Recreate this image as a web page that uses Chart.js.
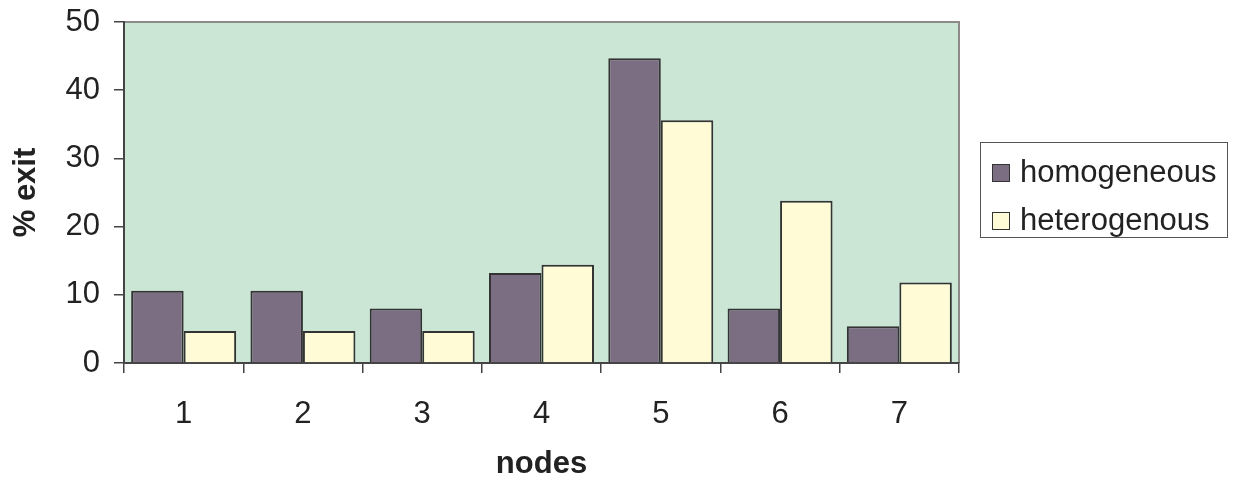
<!DOCTYPE html>
<html>
<head>
  <meta charset="UTF-8" />
  <title>% exit per node</title>
  <script src="https://cdn.jsdelivr.net/npm/chart.js"></script>
  <style>
    body { margin: 0; background: #fff; }
    .wrap { position: relative; width: 1234px; height: 483px; }
    .legend {
      position: absolute; left: 980px; top: 142px; width: 248px; height: 96px;
      border: 1px solid #555; box-sizing: border-box; overflow: visible;
      font-family: "Liberation Sans", Arial, sans-serif; font-size: 31px; color: #222;
      padding-top: 5px;
    }
    .legend div { height: 48px; line-height: 48px; white-space: nowrap; }
    .legend span {
      display: inline-block; width: 16px; height: 16px; border: 1.5px solid #333;
      margin: 0 10px 0 11px; vertical-align: 0px;
    }
  </style>
</head>
<body>
<div class="wrap">
  <canvas id="exitChart" width="1234" height="483"></canvas>
  <div class="legend">
    <div><span style="background:#7b6e82"></span>homogeneous</div>
    <div><span style="background:#fffbd6"></span>heterogenous</div>
  </div>
</div>

<script>
  const nodes = ['1', '2', '3', '4', '5', '6', '7'];
  const homogeneous = [10.6, 10.6, 8.0, 13.2, 44.7, 8.0, 5.4];
  const heterogenous = [4.7, 4.7, 4.7, 14.4, 35.6, 23.8, 11.8];

  // fond vert et cadre gris de la zone de tracé
  const plotBg = {
    id: 'plotBg',
    beforeDraw(chart) {
      const { ctx, chartArea: a } = chart;
      ctx.save();
      ctx.fillStyle = '#cce6d6';
      ctx.fillRect(a.left, a.top, a.right - a.left, a.bottom - a.top);
      ctx.strokeStyle = '#8f8a8a';
      ctx.lineWidth = 2;
      ctx.beginPath();
      ctx.moveTo(a.left, a.top);
      ctx.lineTo(a.right, a.top);
      ctx.lineTo(a.right, a.bottom);
      ctx.stroke();
      ctx.restore();
    }
  };

  const font = { family: '"Liberation Sans", Arial, sans-serif', size: 31 };

  new Chart(document.getElementById('exitChart'), {
    type: 'bar',
    data: {
      labels: nodes,
      datasets: [
        { label: 'homogeneous', data: homogeneous, backgroundColor: '#7b6e82', borderColor: '#333', borderWidth: 2 },
        { label: 'heterogenous', data: heterogenous, backgroundColor: '#fffbd6', borderColor: '#333', borderWidth: 2 }
      ]
    },
    options: {
      responsive: false,
      animation: false,
      layout: { padding: { top: 22, right: 275, left: 0, bottom: 0 } },
      plugins: { legend: { display: false }, tooltip: { enabled: false } },
      datasets: { bar: { categoryPercentage: 0.88, barPercentage: 1.0 } },
      scales: {
        x: {
          offset: true,
          grid: { offset: true, drawOnChartArea: false, drawTicks: true, tickLength: 10, color: '#444', lineWidth: 1.5 },
          border: { color: '#444', width: 2 },
          ticks: { color: '#222', font: font, padding: 23 },
          title: { display: true, text: 'nodes', color: '#222', font: { ...font, weight: 'bold' }, padding: { top: 0, bottom: 0 } },
          afterFit(s) { s.height = 120; }
        },
        y: {
          min: 0, max: 50,
          ticks: { stepSize: 10, color: '#222', font: font, padding: 14 },
          grid: { drawOnChartArea: false, drawTicks: true, tickLength: 10, color: '#444', lineWidth: 1.5 },
          border: { color: '#444', width: 2 },
          title: { display: true, text: '% exit', color: '#222', font: { ...font, weight: 'bold' }, padding: { top: 8, bottom: 0 } },
          afterFit(s) { s.width = 124; s.paddingTop = 0; s.paddingBottom = 0; }
        }
      }
    },
    plugins: [plotBg]
  });
</script>
</body>
</html>
